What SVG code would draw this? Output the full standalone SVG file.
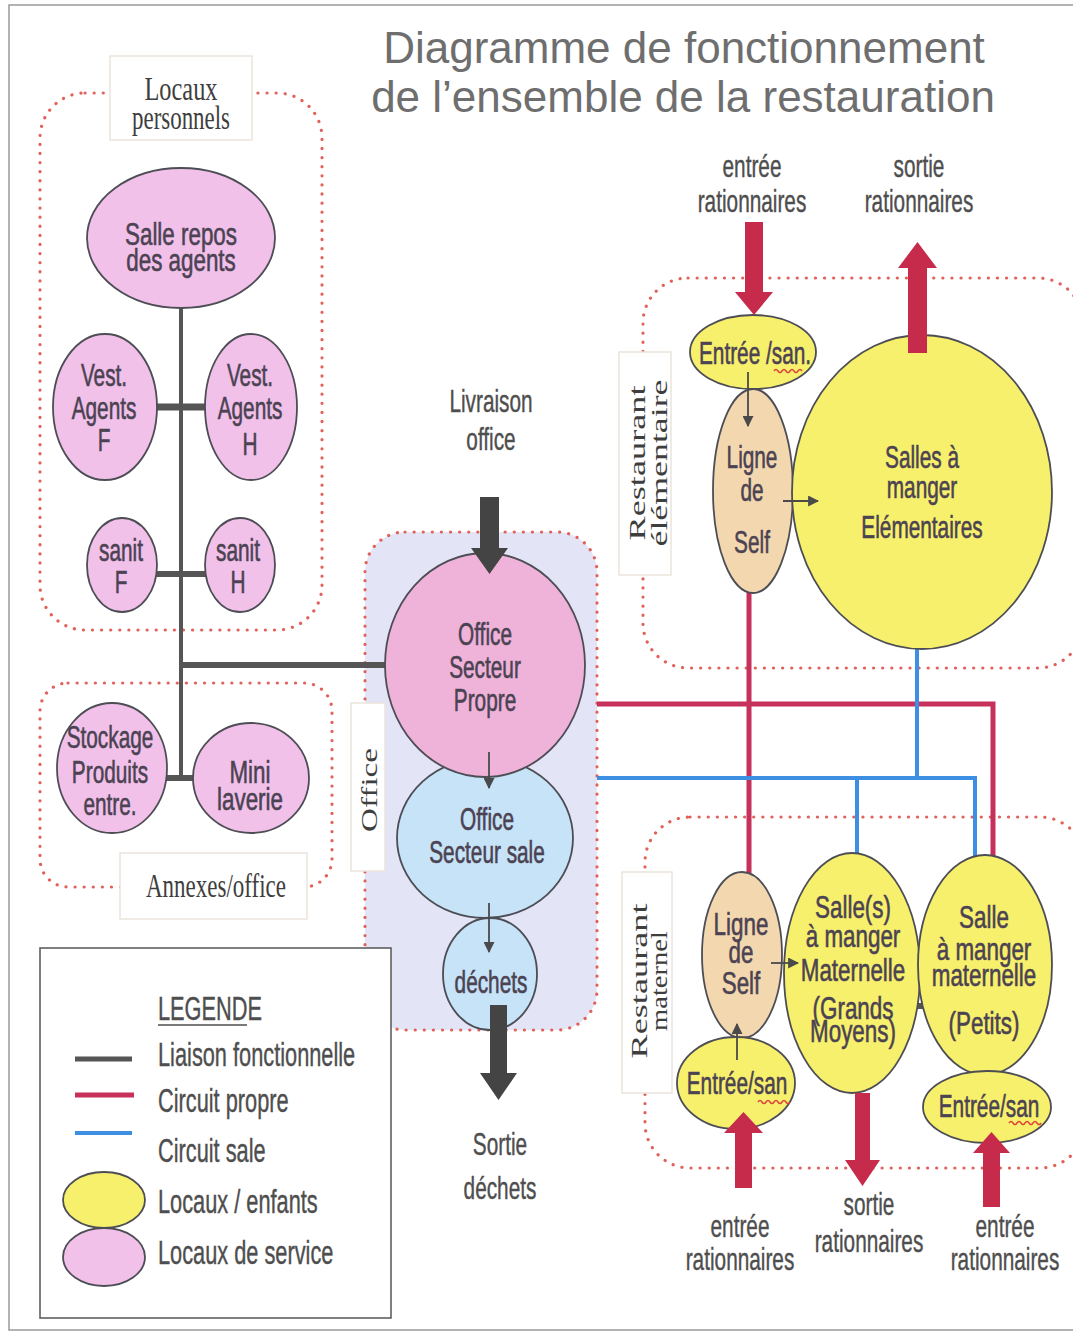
<svg xmlns="http://www.w3.org/2000/svg" width="1073" height="1334" viewBox="0 0 1073 1334">
<defs>
<style>
.s{font-family:'Liberation Sans',Arial,sans-serif;font-size:32px;fill:#4e4e4e;stroke:#4e4e4e;stroke-width:0.4;text-anchor:middle}
.nt{font-family:'Liberation Sans',Arial,sans-serif;font-size:32px;fill:#4b4252;stroke:#4b4252;stroke-width:0.6;text-anchor:middle}
.lg{font-family:'Liberation Sans',Arial,sans-serif;font-size:33px;fill:#4e4e4e;stroke:#4e4e4e;stroke-width:0.4;text-anchor:start}
.sf{font-family:'Liberation Serif','Times New Roman',serif;font-size:34px;fill:#3e3e3e;text-anchor:middle}
.rs{font-family:'Liberation Serif','Times New Roman',serif;font-size:24px;fill:#3e3e3e;text-anchor:middle}
.title{font-family:'Liberation Sans',Arial,sans-serif;font-size:44px;fill:#6e6e6e;text-anchor:middle}
.dot{fill:none;stroke:#e0625a;stroke-width:3.2;stroke-dasharray:0.1 9;stroke-linecap:round}
.lab{fill:#ffffff;stroke:#ece4dc;stroke-width:1.5}
.pink{fill:#f1c1ea;stroke:#4d4d55;stroke-width:1.8}
.pink2{fill:#efb3da;stroke:#4d4d55;stroke-width:1.8}
.blue{fill:#c6e3f7;stroke:#4d4d55;stroke-width:1.8}
.yel{fill:#f7f06c;stroke:#4d4d55;stroke-width:1.8}
.tan{fill:#f3d8af;stroke:#4d4d55;stroke-width:1.8}
.gl{stroke:#555555;fill:none}
.rl{stroke:#c8305c;stroke-width:5;fill:none}
.bl{stroke:#3d8fe3;stroke-width:4;fill:none}
.sa{stroke:#4a4a4a;stroke-width:1.8;fill:none;marker-end:url(#ah)}
.ra{fill:#c62b4b}
.da{fill:#444444}
.wv{fill:none;stroke:#d9453a;stroke-width:1.5}
</style>
<marker id="ah" viewBox="0 0 10 10" refX="9" refY="5" markerWidth="11" markerHeight="11" markerUnits="userSpaceOnUse" orient="auto">
<path d="M0 0 L10 5 L0 10 Z" fill="#4a4a4a"/>
</marker>
</defs>
<rect x="0" y="0" width="1073" height="1334" fill="#ffffff"/>
<rect x="9" y="5" width="1070" height="1325" fill="none" stroke="#9a9a9a" stroke-width="1.5"/>

<!-- title -->
<g id="title">
<text class="title" x="684" y="63">Diagramme de fonctionnement</text>
<text class="title" x="683" y="112">de l’ensemble de la restauration</text>
</g>

<!-- zones -->
<g id="zone-personnels">
<rect class="dot" x="40" y="93" width="282" height="537" rx="45"/>
<rect class="lab" x="110" y="56" width="142" height="84"/>
<text class="sf" x="181" y="100" textLength="73" lengthAdjust="spacingAndGlyphs">Locaux</text>
<text class="sf" x="181" y="129" textLength="98" lengthAdjust="spacingAndGlyphs">personnels</text>
</g>
<g id="zone-annexes">
<rect class="dot" x="40" y="683" width="292" height="204" rx="28"/>
<rect class="lab" x="120" y="853" width="187" height="66"/>
<text class="sf" x="216" y="897" textLength="140" lengthAdjust="spacingAndGlyphs">Annexes/office</text>
</g>
<g id="zone-office">
<rect x="365" y="532" width="232" height="498" rx="40" fill="#e3e4f6"/>
<rect class="dot" x="365" y="532" width="232" height="498" rx="40"/>
<rect class="lab" x="351" y="703" width="34" height="168"/>
<text class="rs" transform="translate(377 790) rotate(-90)" x="0" y="0" font-size="28" textLength="84" lengthAdjust="spacingAndGlyphs">Office</text>
</g>
<g id="zone-elementaire">
<rect class="dot" x="643" y="278" width="440" height="390" rx="45"/>
<rect class="lab" x="619" y="352" width="52" height="223"/>
<text class="rs" transform="translate(645 463) rotate(-90)" x="0" y="0" textLength="155" lengthAdjust="spacingAndGlyphs">Restaurant</text>
<text class="rs" transform="translate(667 463) rotate(-90)" x="0" y="0" textLength="167" lengthAdjust="spacingAndGlyphs">élémentaire</text>
</g>
<g id="zone-maternel">
<rect class="dot" x="645" y="817" width="440" height="351" rx="45"/>
<rect class="lab" x="622" y="872" width="50" height="221"/>
<text class="rs" transform="translate(647 981) rotate(-90)" x="0" y="0" textLength="155" lengthAdjust="spacingAndGlyphs">Restaurant</text>
<text class="rs" transform="translate(667 981) rotate(-90)" x="0" y="0" textLength="100" lengthAdjust="spacingAndGlyphs">maternel</text>
</g>

<!-- connectors -->
<g id="connectors">
<line class="gl" x1="181" y1="300" x2="181" y2="780" stroke-width="4"/>
<line class="gl" x1="155" y1="407" x2="207" y2="407" stroke-width="7"/>
<line class="gl" x1="155" y1="574" x2="207" y2="574" stroke-width="6"/>
<line class="gl" x1="181" y1="665" x2="392" y2="665" stroke-width="6"/>
<line class="gl" x1="160" y1="778" x2="196" y2="778" stroke-width="6"/>
<line class="gl" x1="898" y1="1006" x2="936" y2="1006" stroke-width="6"/>
<line class="rl" x1="749" y1="590" x2="749" y2="875"/>
<polyline class="rl" points="597,704 993,704 993,858"/>
<line class="bl" x1="917" y1="645" x2="917" y2="778"/>
<polyline class="bl" points="597,778 975,778 975,860"/>
<line class="bl" x1="857" y1="778" x2="857" y2="857"/>
</g>

<!-- nodes -->
<g id="node-salle-repos">
<ellipse class="pink" cx="181" cy="238" rx="94" ry="70"/>
<g transform="translate(181 0) scale(0.7 1)"><text class="nt" x="0" y="245" font-size="30">Salle repos</text><text class="nt" x="0" y="271" font-size="30">des agents</text></g>
</g>
<g id="node-vest-f">
<ellipse class="pink" cx="105" cy="407" rx="52" ry="73"/>
<g transform="translate(104 0) scale(0.65 1)"><text class="nt" x="0" y="386">Vest.</text><text class="nt" x="0" y="419">Agents</text><text class="nt" x="0" y="451">F</text></g>
</g>
<g id="node-vest-h">
<ellipse class="pink" cx="251" cy="407" rx="46" ry="73"/>
<g transform="translate(250 0) scale(0.65 1)"><text class="nt" x="0" y="386">Vest.</text><text class="nt" x="0" y="419">Agents</text><text class="nt" x="0" y="455">H</text></g>
</g>
<g id="node-sanit-f">
<ellipse class="pink" cx="122" cy="565" rx="35" ry="47"/>
<g transform="translate(121 0) scale(0.65 1)"><text class="nt" x="0" y="561">sanit</text><text class="nt" x="0" y="593">F</text></g>
</g>
<g id="node-sanit-h">
<ellipse class="pink" cx="240" cy="565" rx="35" ry="47"/>
<g transform="translate(238 0) scale(0.65 1)"><text class="nt" x="0" y="561">sanit</text><text class="nt" x="0" y="593">H</text></g>
</g>
<g id="node-stockage">
<ellipse class="pink" cx="112" cy="768" rx="55" ry="65"/>
<g transform="translate(110 0) scale(0.65 1)"><text class="nt" x="0" y="748" font-size="30">Stockage</text><text class="nt" x="0" y="783" font-size="30">Produits</text><text class="nt" x="0" y="815" font-size="30">entre.</text></g>
</g>
<g id="node-mini-laverie">
<ellipse class="pink" cx="251" cy="778" rx="58" ry="55"/>
<g transform="translate(250 0) scale(0.7 1)"><text class="nt" x="0" y="783" font-size="28">Mini</text><text class="nt" x="0" y="810" font-size="28">laverie</text></g>
</g>
<g id="node-office-sale">
<ellipse class="blue" cx="485" cy="838" rx="88" ry="80"/>
<g transform="translate(487 0) scale(0.65 1)"><text class="nt" x="0" y="830">Office</text><text class="nt" x="0" y="863">Secteur sale</text></g>
</g>
<g id="node-office-propre">
<ellipse class="pink2" cx="485" cy="665" rx="100" ry="112"/>
<g transform="translate(485 0) scale(0.65 1)"><text class="nt" x="0" y="645">Office</text><text class="nt" x="0" y="678">Secteur</text><text class="nt" x="0" y="711">Propre</text></g>
</g>
<g id="node-dechets">
<ellipse class="blue" cx="490" cy="974" rx="47" ry="56"/>
<g transform="translate(491 0) scale(0.65 1)"><text class="nt" x="0" y="993">déchets</text></g>
</g>
<g id="node-ligne-elem">
<ellipse class="tan" cx="753" cy="491" rx="40" ry="102"/>
<g transform="translate(752 0) scale(0.65 1)"><text class="nt" x="0" y="468">Ligne</text><text class="nt" x="0" y="501">de</text><text class="nt" x="0" y="553">Self</text></g>
</g>
<g id="node-entree-elem">
<ellipse class="yel" cx="753" cy="352" rx="63" ry="37"/>
<g transform="translate(755 0) scale(0.65 1)"><text class="nt" x="0" y="364">Entrée /san.</text></g>
<path class="wv" d="M774 371 q2 -3 4 0 t4 0 t4 0 t4 0 t4 0 t4 0 t4 0"/>
</g>
<g id="node-salles-elem">
<ellipse class="yel" cx="922" cy="492" rx="130" ry="157"/>
<g transform="translate(922 0) scale(0.65 1)"><text class="nt" x="0" y="468">Salles à</text><text class="nt" x="0" y="498">manger</text><text class="nt" x="0" y="538">Elémentaires</text></g>
</g>
<g id="node-ligne-mat">
<ellipse class="tan" cx="742" cy="955" rx="40" ry="83"/>
<g transform="translate(741 0) scale(0.7 1)"><text class="nt" x="0" y="935" font-size="29">Ligne</text><text class="nt" x="0" y="963" font-size="29">de</text><text class="nt" x="0" y="994" font-size="29">Self</text></g>
</g>
<g id="node-entree-mat-1">
<ellipse class="yel" cx="736" cy="1083" rx="59" ry="46"/>
<g transform="translate(737 0) scale(0.65 1)"><text class="nt" x="0" y="1094">Entrée/san</text></g>
<path class="wv" d="M758 1102 q2 -3 4 0 t4 0 t4 0 t4 0 t4 0 t4 0 t4 0 t4 0"/>
</g>
<g id="node-salle-grands">
<ellipse class="yel" cx="852" cy="973" rx="68" ry="120"/>
<g transform="translate(853 0) scale(0.7 1)"><text class="nt" x="0" y="918" font-size="29">Salle(s)</text><text class="nt" x="0" y="947" font-size="30">à manger</text><text class="nt" x="0" y="981" font-size="30">Maternelle</text><text class="nt" x="0" y="1019" font-size="29">(Grands</text><text class="nt" x="0" y="1042" font-size="29">Moyens)</text></g>
</g>
<g id="node-salle-petits">
<ellipse class="yel" cx="985" cy="965" rx="67" ry="110"/>
<g transform="translate(984 0) scale(0.7 1)"><text class="nt" x="0" y="928" font-size="30">Salle</text><text class="nt" x="0" y="960" font-size="30">à manger</text><text class="nt" x="0" y="986" font-size="30">maternelle</text><text class="nt" x="0" y="1034" font-size="30">(Petits)</text></g>
</g>
<g id="node-entree-mat-2">
<ellipse class="yel" cx="987" cy="1107" rx="64" ry="36"/>
<g transform="translate(989 0) scale(0.65 1)"><text class="nt" x="0" y="1117">Entrée/san</text></g>
<path class="wv" d="M1009 1123 q2 -3 4 0 t4 0 t4 0 t4 0 t4 0 t4 0 t4 0 t4 0"/>
</g>

<!-- flow arrows -->
<g id="flow-arrows">
<line class="sa" x1="489" y1="752" x2="489" y2="788"/>
<line class="sa" x1="489" y1="903" x2="489" y2="952"/>
<line class="sa" x1="748" y1="372" x2="748" y2="426"/>
<line class="sa" x1="783" y1="501" x2="818" y2="501"/>
<line class="sa" x1="737" y1="1060" x2="737" y2="1024"/>
<line class="sa" x1="771" y1="963" x2="798" y2="963"/>
<polygon class="da" points="480,497 499,497 499,548 508,548 489.5,574 471,548 480,548"/>
<polygon class="da" points="490,1005 507,1005 507,1073 517,1073 498.5,1100 480,1073 490,1073"/>
<polygon class="ra" points="745,222 763,222 763,292 773,292 754,315 735,292 745,292"/>
<polygon class="ra" points="908,353 927,353 927,268 937,268 917.5,242 898,268 908,268"/>
<polygon class="ra" points="735,1188 752,1188 752,1133 763,1133 743.5,1112 724,1133 735,1133"/>
<polygon class="ra" points="855,1093 870,1093 870,1160 880,1160 862.5,1186 845,1160 855,1160"/>
<polygon class="ra" points="983,1207 1000,1207 1000,1153 1010,1153 991.5,1132 973,1153 983,1153"/>
</g>

<!-- free labels -->
<g id="labels">
<g transform="translate(491 0) scale(0.65 1)"><text class="s" x="0" y="412">Livraison</text><text class="s" x="0" y="450">office</text></g>
<g transform="translate(500 0) scale(0.65 1)"><text class="s" x="0" y="1155">Sortie</text><text class="s" x="0" y="1199">déchets</text></g>
<g transform="translate(752 0) scale(0.65 1)"><text class="s" x="0" y="177">entrée</text><text class="s" x="0" y="212">rationnaires</text></g>
<g transform="translate(919 0) scale(0.65 1)"><text class="s" x="0" y="177">sortie</text><text class="s" x="0" y="212">rationnaires</text></g>
<g transform="translate(740 0) scale(0.65 1)"><text class="s" x="0" y="1237">entrée</text><text class="s" x="0" y="1270">rationnaires</text></g>
<g transform="translate(869 0) scale(0.65 1)"><text class="s" x="0" y="1215">sortie</text><text class="s" x="0" y="1252">rationnaires</text></g>
<g transform="translate(1005 0) scale(0.65 1)"><text class="s" x="0" y="1237">entrée</text><text class="s" x="0" y="1270">rationnaires</text></g>
</g>

<!-- legend -->
<g id="legend">
<rect x="40" y="948" width="351" height="370" fill="#ffffff" stroke="#555555" stroke-width="1.5"/>
<line x1="75" y1="1059" x2="132" y2="1059" stroke="#555555" stroke-width="5"/>
<line x1="75" y1="1095" x2="134" y2="1095" stroke="#c8305c" stroke-width="5"/>
<line x1="75" y1="1133" x2="132" y2="1133" stroke="#3d8fe3" stroke-width="4"/>
<ellipse class="yel" cx="104" cy="1200" rx="41" ry="28"/>
<ellipse class="pink" cx="104" cy="1257" rx="41" ry="29"/>
<g transform="translate(158 0) scale(0.66 1)">
<text class="lg" x="0" y="1020" font-size="30">LEGENDE</text>
<text class="lg" x="0" y="1066">Liaison fonctionnelle</text>
<text class="lg" x="0" y="1112">Circuit propre</text>
<text class="lg" x="0" y="1162">Circuit sale</text>
<text class="lg" x="0" y="1213">Locaux / enfants</text>
<text class="lg" x="0" y="1264">Locaux de service</text>
</g>
<line x1="158" y1="1025" x2="247" y2="1025" stroke="#4e4e4e" stroke-width="1.5"/>
</g>
</svg>
